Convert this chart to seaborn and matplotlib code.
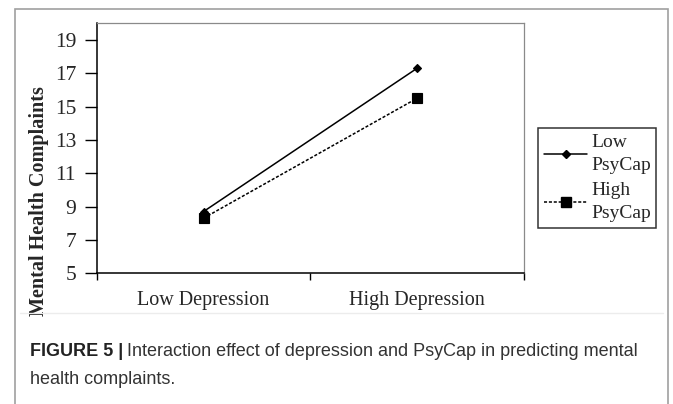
import matplotlib
matplotlib.use("Agg")
import matplotlib.pyplot as plt
import seaborn as sns
import pandas as pd
from matplotlib.patches import Rectangle
from matplotlib.lines import Line2D

# Data
depression = ["Low Depression", "High Depression"]
low_psycap = [8.7, 17.3]
high_psycap = [8.3, 15.5]
groups = ["Low\nPsyCap", "High\nPsyCap"]
y_ticks = [5, 7, 9, 11, 13, 15, 17, 19]

df = pd.DataFrame({
    "Depression": depression * 2,
    "Complaints": low_psycap + high_psycap,
    "PsyCap": [groups[0]] * 2 + [groups[1]] * 2,
})

sns.set_theme(style="white")
plt.rcParams["font.family"] = ["Liberation Serif", "DejaVu Serif"]

fig = plt.figure(figsize=(6.73, 4.04), dpi=100)
ax = fig.add_axes([0.144, 0.324, 0.634, 0.618])

dash = (0, (2, 1.2))
sns.pointplot(
    data=df, x="Depression", y="Complaints", hue="PsyCap",
    order=depression, hue_order=groups,
    palette=["black", "black"], markers=["D", "s"],
    linestyles=["-", dash], dodge=False, errorbar=None,
    markersize=5, linewidth=1.1, ax=ax, legend=False,
)
# diamond a bit smaller than the square
for ln, ms in zip(ax.lines, [4.5, 6.5]):
    ln.set_markersize(ms)

# Axes formatting
ax.set_xlim(-0.5, 1.5)
ax.set_ylim(5, 20)
ax.set_yticks(y_ticks)
ax.set_xticks([0, 1])
ax.set_xticklabels(depression, fontsize=14.5)
ax.set_xticks([-0.5, 0.5, 1.5], minor=True)
ax.tick_params(axis="x", which="major", length=0, pad=13)
ax.tick_params(axis="x", which="minor", length=5, width=1, color="black",
               direction="out", bottom=True)
ax.tick_params(axis="y", length=9, width=1, color="black", direction="out",
               left=True, labelsize=15.5, pad=6)
ax.set_xlabel("")
ax.set_ylabel("Mental Health Complaints", fontsize=14.5, fontweight="bold")
ax.yaxis.set_label_coords(-0.112, 0.29)
for side in ["left", "bottom"]:
    ax.spines[side].set_color("black")
    ax.spines[side].set_linewidth(1.1)
for side in ["top", "right"]:
    ax.spines[side].set_color("#8a8a8a")
    ax.spines[side].set_linewidth(0.9)

# Legend
handles = [
    Line2D([], [], color="black", lw=1.1, marker="D", markersize=4.5),
    Line2D([], [], color="black", lw=1.1, ls=dash, marker="s",
           markersize=6.5),
]
leg = fig.legend(handles, groups, loc="upper left",
                 bbox_to_anchor=(0.8, 0.682), frameon=True, fontsize=14,
                 handlelength=2.2, handletextpad=0.2, labelspacing=0.4,
                 borderpad=0.3, borderaxespad=0, fancybox=False)
leg.get_frame().set_edgecolor("black")
leg.get_frame().set_linewidth(1.1)
for t in leg.get_texts():
    t.set_linespacing(1.45)

# Outer frame and caption
fig.patches.append(Rectangle((0.023, -0.05), 0.969, 1.028,
                             transform=fig.transFigure, fill=False,
                             edgecolor="#a0a0a0", lw=1.2))
fig.add_artist(Line2D([0.03, 0.985], [0.225, 0.225],
                      transform=fig.transFigure, color="#ececec", lw=1))

sans = ["Liberation Sans", "DejaVu Sans"]
cap_x = 0.044
cap_y = 0.13
t1 = fig.text(cap_x, cap_y, "FIGURE 5 |", fontsize=13, fontweight="bold",
              family=sans, va="center", color="#222222")
fig.canvas.draw()
bb = t1.get_window_extent().transformed(fig.transFigure.inverted())
fig.text(bb.x1 + 0.006, cap_y,
         "Interaction effect of depression and PsyCap in predicting mental",
         fontsize=13, family=sans, va="center", color="#333333")
fig.text(cap_x, 0.06, "health complaints.", fontsize=13,
         family=sans, va="center", color="#333333")

fig.savefig("out.png", dpi=100)
